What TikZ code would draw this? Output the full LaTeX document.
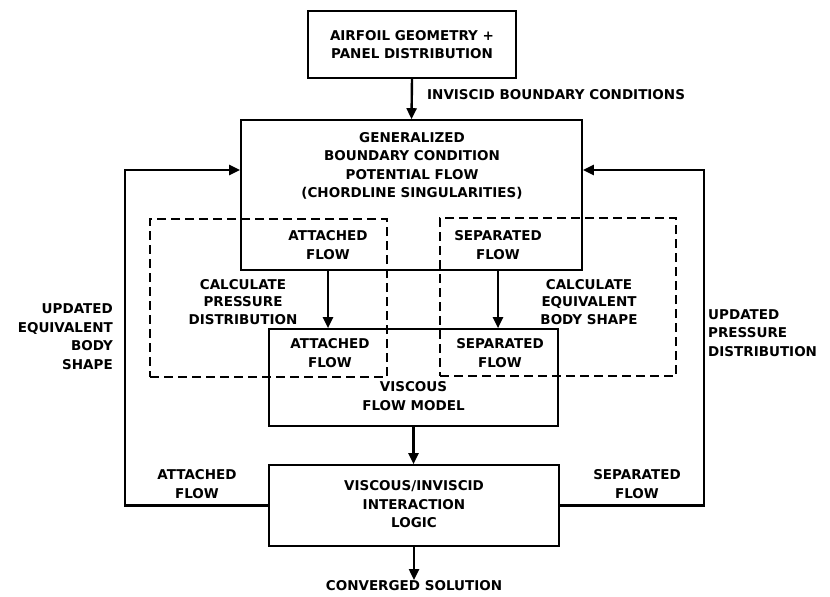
\documentclass[tikz,border=0pt]{standalone}
\usepackage{fontspec}
\setmainfont{DejaVu Sans}
\usetikzlibrary{arrows.meta}
\begin{document}
\begin{tikzpicture}[x=1pt,y=-1pt,
  lbl/.style={font=\bfseries\fontsize{13.5}{18.5}\selectfont, inner sep=0pt, align=center},
  box/.style={draw, line width=1.6pt, inner sep=0pt},
  dbox/.style={draw, line width=1.5pt, dash pattern=on 9pt off 5pt, inner sep=0pt},
  arr/.style={line width=2.4pt, -{Triangle[length=11pt,width=10pt]}},
  loopline/.style={line width=2.4pt}
]
\useasboundingbox (0,0) rectangle (830,597);

% dashed regions
\node[dbox, minimum width=237pt, minimum height=158pt] (ldash) at (268.5,298) {};
\node[dbox, minimum width=236pt, minimum height=158pt] (rdash) at (558,297) {};

% boxes
\node[box, minimum width=208pt, minimum height=67pt] (top) at (412,44.5) {};
\node[lbl] (toptext) at (412,44.5) {AIRFOIL GEOMETRY +\\PANEL DISTRIBUTION};

\node[box, minimum width=341pt, minimum height=150pt] (big) at (411.5,195) {};
\node[lbl] (bigtext) at (412,166) {GENERALIZED\\BOUNDARY CONDITION\\POTENTIAL FLOW\\(CHORDLINE SINGULARITIES)};
\node[lbl] (atttop) at (328,245) {ATTACHED\\FLOW};
\node[lbl] (septop) at (498,245) {SEPARATED\\FLOW};

\node[box, minimum width=289pt, minimum height=97pt] (visc) at (413.5,377.5) {};
\node[lbl] (attbot) at (330,353) {ATTACHED\\FLOW};
\node[lbl] (sepbot) at (500,353) {SEPARATED\\FLOW};
\node[lbl] (visctext) at (413.5,396) {VISCOUS\\FLOW MODEL};

\node[box, minimum width=290pt, minimum height=81pt] (inter) at (414,505.5) {};
\node[lbl] (intertext) at (414,504.5) {VISCOUS/INVISCID\\INTERACTION\\LOGIC};

\node[lbl, anchor=north] (conv) at (414,580) {CONVERGED SOLUTION};

% labels
\node[lbl, anchor=west] (ibc) at (427,95) {INVISCID BOUNDARY CONDITIONS};
\node[lbl, font=\bfseries\fontsize{13.5}{17.5}\selectfont] (calcp) at (243,302) {CALCULATE\\PRESSURE\\DISTRIBUTION};
\node[lbl, font=\bfseries\fontsize{13.5}{17.5}\selectfont] (calce) at (589,302) {CALCULATE\\EQUIVALENT\\BODY SHAPE};
\node[lbl, align=right, anchor=east] (updl) at (113,336.5) {UPDATED\\EQUIVALENT\\BODY\\SHAPE};
\node[lbl, align=left, anchor=west] (updr) at (708,333) {UPDATED\\PRESSURE\\DISTRIBUTION};
\node[lbl] (attl) at (197,484) {ATTACHED\\FLOW};
\node[lbl] (sepl) at (637,484) {SEPARATED\\FLOW};

% connectors
\draw[arr] (top.south) -- (big.north);
\draw[arr] (big.south -| atttop) -- (visc.north -| atttop);
\draw[arr] (big.south -| septop) -- (visc.north -| septop);
\draw[arr] (visc.south) -- (inter.north -| visc.south);
\draw[arr] (inter.south) -- (conv.north);

\coordinate (lt) at (125,170);
\coordinate (rt) at (704,170);
\draw[arr] (inter.west) -| (lt) -- (big.west |- lt);
\draw[arr] (inter.east) -| (rt) -- (big.east |- rt);
\end{tikzpicture}
\end{document}
